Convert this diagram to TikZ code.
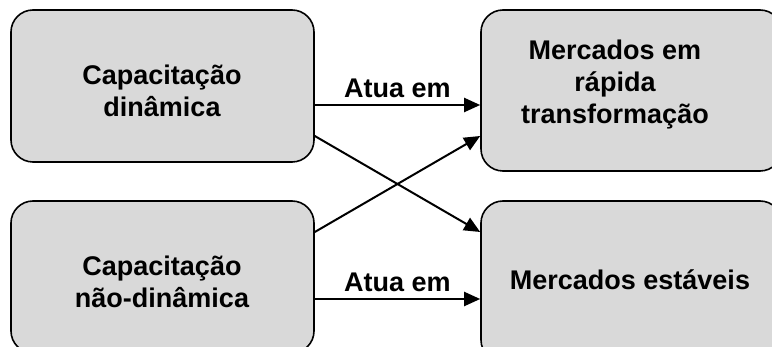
\documentclass[tikz,border=0pt]{standalone}
\usepackage{fontspec}
\setmainfont{Liberation Sans}
\usetikzlibrary{arrows.meta}
\definecolor{boxgray}{HTML}{D9D9D9}
\tikzset{
  block/.style={draw=black, fill=boxgray, line width=1.6pt, rounded corners=22pt,
    inner sep=0pt, align=center, font=\fontsize{27}{32}\selectfont\bfseries},
  link/.style={line width=2pt, -{Triangle[length=16pt,width=14pt]}},
  tag/.style={font=\fontsize{27}{32}\selectfont\bfseries, inner sep=0pt}
}
\begin{document}
\begin{tikzpicture}[x=1pt,y=-1pt]
\useasboundingbox (0,0) rectangle (772,347);
% boxes
\node[block, minimum width=303pt, minimum height=152pt] (tl) at (162.5,86) {};
\node[block, minimum width=301pt, minimum height=161pt] (tr) at (631.5,90.5) {};
\node[block, minimum width=303pt, minimum height=152pt] (bl) at (162.5,277) {};
\node[block, minimum width=301pt, minimum height=161pt] (br) at (631.5,281.5) {};
% box texts
\node[tag, align=center] (tlt) at (162,91) {Capacitação\\dinâmica};
\node[tag, align=center] (trt) at (615,85) {Mercados em\\rápida\\transformação};
\node[tag, align=center] (blt) at (162,282) {Capacitação\\não-dinâmica};
\node[tag] (brt) at (630,280) {Mercados estáveis};
% straight links
\draw[link] ([yshift=-19pt]tl.east) -- ([yshift=-14.5pt]tr.west) node[tag, midway, above=6pt] (a1) {Atua em};
\draw[link] ([yshift=-22pt]bl.east) -- ([yshift=-17.5pt]br.west) node[tag, midway, above=6pt] (a2) {Atua em};
% crossing links
\draw[link] ([yshift=-50pt]tl.east) -- ([yshift=49.5pt]br.west);
\draw[link] ([yshift=45pt]bl.east) -- ([yshift=-45.5pt]tr.west);
\end{tikzpicture}
\end{document}
